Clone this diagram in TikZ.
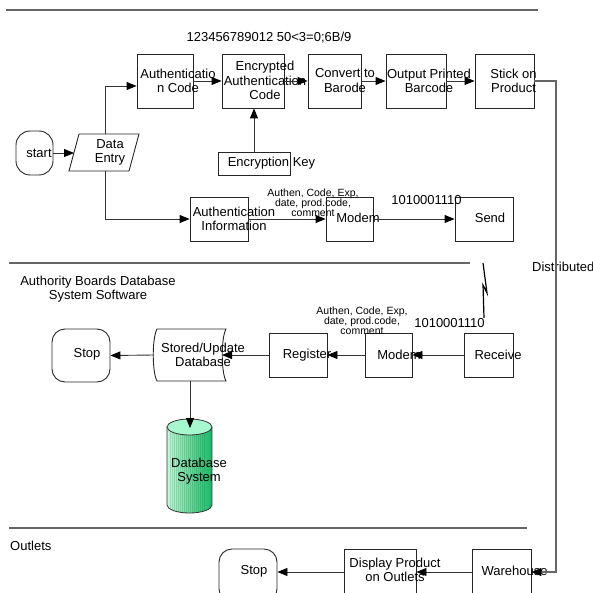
\documentclass[tikz,border=0pt]{standalone}
\usepackage{fontspec}
\setmainfont{Liberation Sans}
\usetikzlibrary{arrows.meta,calc}

\definecolor{cylleft}{RGB}{196,248,221}
\definecolor{cylmid}{RGB}{140,232,182}
\definecolor{cylright}{RGB}{22,184,104}
\definecolor{cyltop}{RGB}{166,248,206}

\tikzset{
  box/.style={draw=black!85, line width=0.9pt, inner sep=0pt},
  term/.style={draw=black!85, line width=0.9pt, inner sep=0pt, rounded corners=13pt},
  lbl/.style={font=\fontsize{13}{14.5}\selectfont, align=center, inner sep=0pt},
  small/.style={font=\fontsize{10.5}{10.2}\selectfont, align=center, inner sep=0pt},
  tip/.style={-{Triangle[length=10pt,width=8pt,color=black]}},
  conn/.style={draw=black!80, line width=0.9pt, tip},
  route/.style={draw=black!60, line width=1.3pt, tip},
  sep/.style={draw=black!60, line width=1.4pt},
}

\begin{document}
\begin{tikzpicture}[x=1pt,y=-1pt]
\useasboundingbox (0,0) rectangle (593,593);

% lane separators
\draw[sep] (6,10) -- (538,10);
\draw[sep] (9,263) -- (470,263);
\draw[sep] (9,528) -- (527,528);

% ---------- lane 1: producer ----------
\node[term, rounded corners=14pt, minimum width=37pt, minimum height=44pt] (start) at (34.5,153) {};
\node[lbl] (t-start) at (39,153) {start};

% data entry (parallelogram)
\draw[box] (79,134) -- (139,134) -- (129,171) -- (69,171) -- cycle;
\node[lbl] (de) at (110,152.5) {Data\\Entry};
\coordinate (deL) at (74,153);
\coordinate (deT) at (105,134);
\coordinate (deB) at (105,171);

\node[box, minimum width=56pt, minimum height=54pt] (ac) at (165,81) {};
\node[box, minimum width=62pt, minimum height=54pt] (eac) at (253,81) {};
\node[box, minimum width=53pt, minimum height=54pt] (cb) at (334.5,81) {};
\node[box, minimum width=60pt, minimum height=54pt] (opb) at (416,81) {};
\node[box, minimum width=59pt, minimum height=54pt] (sp) at (504.5,81) {};
\node[box, minimum width=72pt, minimum height=23pt] (ek) at (254,163.5) {};

\node[lbl] (t-ac) at (178,81) {Authenticatio\\n Code};
\node[lbl] (t-eac) at (265,80.5) {Encrypted\\Authentication\\Code};
\node[lbl] (t-cb) at (345,80.5) {Convert to\\Barode};
\node[lbl] (t-opb) at (429,81) {Output Printed\\Barcode};
\node[lbl] (t-sp) at (513.5,81) {Stick on\\Product};
\node[lbl] (t-ek) at (271.5,163.5) {Encryption Key};
\node[lbl] (code) at (269,38) {123456789012 50<3=0;6B/9};

\node[box, minimum width=58pt, minimum height=44pt] (ai) at (219,219) {};
\node[box, minimum width=47pt, minimum height=44pt] (m1) at (349.5,219) {};
\node[box, minimum width=58pt, minimum height=44pt] (send) at (484,219) {};

\node[lbl] (t-ai) at (234,219) {Authentication\\Information};
\node[lbl] (t-m1) at (358,218) {Modem};
\node[lbl] (t-send) at (490,218) {Send};
\node[small] (fields1) at (313,203) {Authen, Code, Exp,\\date, prod.code,\\comment};
\node[lbl] (bits1) at (426.5,200.5) {1010001110};

\draw[conn] (start.east) -- (deL);
\draw[conn] (deT) |- ([yshift=-5pt]ac.west);
\draw[conn] (deB) |- (ai.west);
\draw[conn] (ac.east) -- (eac.west);
\draw[conn] (eac.east) -- (cb.west);
\draw[conn] (cb.east) -- (opb.west);
\draw[conn] (opb.east) -- (sp.west);
\draw[conn] (ek.north) -- (ek.north |- eac.south);
\draw[conn] (ai.east) -- (m1.west);
\draw[conn] (m1.east) -- (send.west);

% transmission link
\draw[line width=1.2pt, line join=miter] (483,263) -- (487,293) -- (483,285) -- (484,318);
\node[lbl, anchor=west] (dist) at (532,267) {Distributed};

% ---------- lane 2: authority database ----------
\node[lbl] (authority) at (98,289) {Authority Boards Database\\System Software};

\node[box, minimum width=49pt, minimum height=44pt] (rc) at (488.5,355) {};
\node[box, minimum width=47pt, minimum height=44pt] (m2) at (388.5,355) {};
\node[box, minimum width=58pt, minimum height=44pt] (rg) at (298,355) {};
\node[term, minimum width=58pt, minimum height=53pt] (stop1) at (81,355.5) {};

% stored data shape
\draw[box] (157,329) -- (226,329) .. controls (221,338) and (221,372) .. (226,381)
  -- (157,381) .. controls (152,372) and (152,338) .. (157,329) -- cycle;
\coordinate (stR) at (222,355);
\coordinate (stL) at (154,355);
\coordinate (stB) at (190,381);

\node[lbl] (t-rc) at (498,355) {Receive};
\node[lbl] (t-m2) at (399,355) {Modem};
\node[lbl] (t-rg) at (307,355) {Register};
\node[lbl] (t-stop1) at (87,354) {Stop};
\node[lbl] (stored) at (203,355) {Stored/Update\\Database};
\node[small] (fields2) at (362,320.5) {Authen, Code, Exp,\\date, prod.code,\\comment};
\node[lbl] (bits2) at (449.5,323) {1010001110};

% database cylinder
\begin{scope}
  \path[clip] (167,427) -- (167,505)
    arc[start angle=180, end angle=360, x radius=22.5pt, y radius=8pt]
    -- (212,427) -- cycle;
  \shade[left color=cylleft, middle color=cylmid, right color=cylright]
    (167,415) rectangle (212,515);
  \foreach \hx in {170,172,...,204}
    \draw[green!45!black, opacity=0.18, line width=0.4pt] (\hx,425) -- (\hx,515);
\end{scope}
\draw[black!80, line width=0.8pt] (167,427) -- (167,505)
  arc[start angle=180, end angle=360, x radius=22.5pt, y radius=8pt] -- (212,427);
\draw[black!80, line width=0.8pt, fill=cyltop] (189.5,427) ellipse[x radius=22.5pt, y radius=8pt];
\coordinate (dbT) at (190,428);
\node[lbl] (db) at (199,471) {Database\\System};

\draw[conn] (rc.west) -- (m2.east);
\draw[conn] (m2.west) -- (rg.east);
\draw[conn] (rg.west) -- (stR);
\draw[conn] (stL) -- (stop1.east);
\draw[conn] (stB) -- (dbT);

% ---------- lane 3: outlets ----------
\node[lbl, anchor=west] (outlets) at (10,546) {Outlets};

\node[box, minimum width=59pt, minimum height=46pt] (wh) at (501.5,572) {};
\node[box, minimum width=72pt, minimum height=46pt] (dp) at (380,572) {};
\node[term, minimum width=58pt, minimum height=53pt] (stop2) at (248,575.5) {};

\node[lbl] (t-wh) at (514.5,571) {Warehouse};
\node[lbl] (t-dp) at (395,570) {Display Product\\on Outlets};
\node[lbl] (t-stop2) at (254,571) {Stop};

\coordinate (bend) at (556,572);
\draw[route] (sp.east) -| (bend) -- (wh.east);
\draw[conn] (wh.west) -- (dp.east);
\draw[conn] (dp.west) -- (dp.west -| stop2.east);
\end{tikzpicture}
\end{document}
